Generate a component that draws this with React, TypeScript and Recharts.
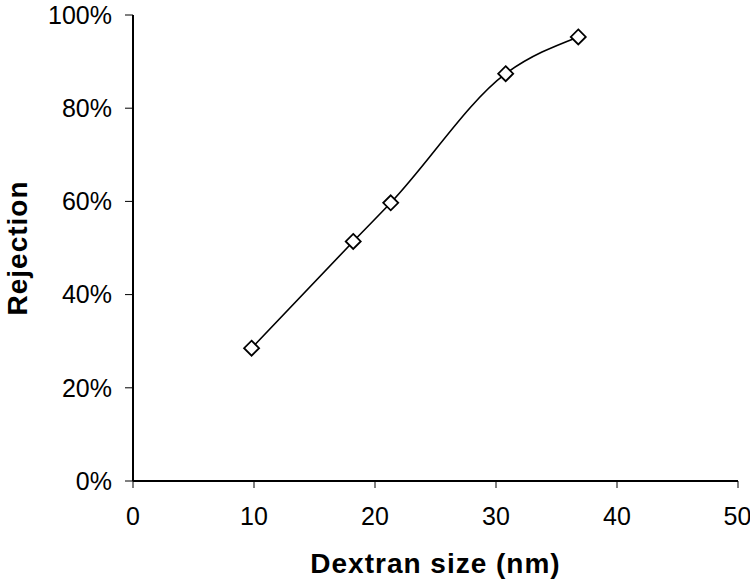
import React from 'react';
import { LineChart, Line, XAxis, YAxis, Label } from 'recharts';

// dextran size (nm) vs rejection (fraction)
const sizes = [9.8, 18.2, 21.3, 30.8, 36.8];
const rejection = [0.285, 0.514, 0.597, 0.874, 0.953];
const xTicks = [0, 10, 20, 30, 40, 50];
const yTicks = [0, 0.2, 0.4, 0.6, 0.8, 1];

const data = sizes.map((s, i) => ({ size: s, rejection: rejection[i] }));

const FONT = '"Liberation Sans", Arial, sans-serif';
const titleStyle = {
  fill: '#000',
  fontSize: 28,
  fontWeight: 'bold',
  fontFamily: FONT,
  letterSpacing: 1,
};

const Diamond = (props: any) => {
  const { cx, cy } = props;
  if (cx == null || cy == null) return null;
  const r = 7.5;
  return (
    <path
      d={`M${cx},${cy - r}L${cx + r},${cy}L${cx},${cy + r}L${cx - r},${cy}Z`}
      fill="#fff"
      stroke="#000"
      strokeWidth={1.8}
    />
  );
};

export default function App() {
  return (
    <div style={{ position: 'absolute', left: 0, top: 0, background: '#fff' }}>
      <LineChart
        width={750}
        height={585}
        data={data}
        margin={{ top: 15, right: 12, bottom: 0, left: 0 }}
      >
        <XAxis
          xAxisId="b"
          dataKey="size"
          type="number"
          domain={[0, 50]}
          ticks={xTicks}
          height={104}
          stroke="#000"
          axisLine={{ strokeWidth: 2 }}
          tickSize={7}
          tickMargin={19}
          tick={{ fill: '#000', fontSize: 25, fontFamily: FONT }}
        >
          <Label
            value="Dextran size (nm)"
            position="insideBottom"
            offset={12}
            style={titleStyle}
          />
        </XAxis>
        <XAxis
          xAxisId="t"
          orientation="top"
          dataKey="size"
          type="number"
          domain={[0, 50]}
          height={0}
          tick={false}
          tickLine={false}
          stroke="#000"
          axisLine={{ strokeWidth: 2 }}
        />
        <YAxis
          yAxisId="l"
          type="number"
          domain={[0, 1]}
          ticks={yTicks}
          width={133}
          stroke="#000"
          axisLine={{ strokeWidth: 2 }}
          tickSize={8}
          tickMargin={13}
          tickFormatter={(v: number) => `${Math.round(v * 100)}%`}
          tick={{ fill: '#000', fontSize: 25, fontFamily: FONT }}
        >
          <Label
            value="Rejection"
            angle={-90}
            position="insideLeft"
            offset={17}
            style={{ ...titleStyle, textAnchor: 'middle' }}
          />
        </YAxis>
        <YAxis
          yAxisId="r"
          orientation="right"
          type="number"
          domain={[0, 1]}
          width={0}
          tick={false}
          tickLine={false}
          stroke="#000"
          axisLine={{ strokeWidth: 2 }}
        />
        <Line
          xAxisId="b"
          yAxisId="l"
          dataKey="rejection"
          type="monotone"
          stroke="#000"
          strokeWidth={1.6}
          dot={<Diamond />}
          activeDot={false}
          isAnimationActive={false}
        />
      </LineChart>
    </div>
  );
}
